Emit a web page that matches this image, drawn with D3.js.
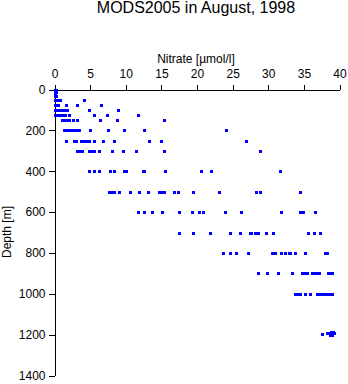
<!DOCTYPE html>
<html>
<head>
<meta charset="utf-8">
<script src="https://cdn.jsdelivr.net/npm/d3@7"></script>
<style>
  html, body { margin: 0; padding: 0; background: #fff; }
  svg { display: block; }
  text { font-family: "Liberation Sans", Arial, Helvetica, sans-serif; fill: #000; }
</style>
</head>
<body>
<svg id="chart" width="348" height="384"></svg>
<script>
const title = "MODS2005 in August, 1998";
const xLabel = "Nitrate [\u00b5mol/l]";
const yLabel = "Depth [m]";
const xTicks = [0, 5, 10, 15, 20, 25, 30, 35, 40];
const yTicks = [0, 200, 400, 600, 800, 1000, 1200, 1400];

// Observations: depth [m] and nitrate [µmol/l], paired by index
const depth = [
  0, 0, 0,
  10, 10, 10,
  20, 20,
  30, 30, 30,
  50, 50, 50, 50, 50,
  75, 75, 75, 75, 75, 75,
  100, 100, 100, 100, 100, 100, 100, 100,
  125, 125, 125, 125, 125, 125, 125, 125, 125,
  150, 150, 150, 150, 150, 150, 150, 150, 150,
  200, 200, 200, 200, 200, 200, 200, 200, 200, 200, 200, 200,
  250, 250, 250, 250, 250, 250, 250, 250, 250, 250, 250, 250, 250,
  300, 300, 300, 300, 300, 300, 300, 300, 300, 300, 300, 300,
  400, 400, 400, 400, 400, 400, 400, 400, 400, 400, 400, 400, 400,
  500, 500, 500, 500, 500, 500, 500, 500, 500, 500, 500, 500, 500, 500, 500, 500, 500,
  600, 600, 600, 600, 600, 600, 600, 600, 600, 600, 600, 600, 600, 600,
  700, 700, 700, 700, 700, 700, 700, 700, 700, 700, 700, 700, 700, 700,
  800, 800, 800, 800, 800, 800, 800, 800, 800, 800, 800, 800, 800, 800,
  900, 900, 900, 900, 900, 900, 900, 900, 900, 900, 900, 900, 900, 900,
  1000, 1000, 1000, 1000, 1000, 1000, 1000, 1000, 1000, 1000, 1000, 1000,
  1195, 1192, 1190, 1185, 1195, 1200, 1188, 1193, 1202
];
const nitrate = [
  0.0, 0.1, 0.2,
  0.0, 0.1, 0.2,
  0.0, 0.1,
  0.0, 0.1, 0.2,
  0.0, 0.2, 0.4, 0.8, 4.1,
  0.0, 0.2, 0.5, 1.6, 3.1, 6.5,
  0.0, 0.3, 0.6, 1.0, 1.4, 1.8, 4.8, 8.9,
  0.0, 0.3, 0.7, 1.1, 1.5, 2.0, 5.5, 7.3, 11.7,
  1.1, 1.4, 1.7, 2.0, 2.6, 3.1, 6.4, 8.8, 15.4,
  1.4, 1.7, 2.1, 2.4, 2.8, 3.1, 3.5, 5.0, 7.5, 9.8, 12.5, 24.0,
  1.6, 2.7, 3.0, 3.7, 4.0, 4.4, 4.8, 5.5, 6.8, 8.4, 13.3, 15.0, 26.9,
  3.2, 3.6, 3.9, 4.8, 5.2, 5.6, 6.2, 8.1, 9.6, 11.5, 15.3, 28.8,
  4.8, 5.5, 6.3, 7.8, 8.3, 9.7, 10.1, 12.4, 12.6, 15.5, 20.5, 21.9, 31.6,
  7.7, 8.0, 8.3, 9.1, 10.6, 11.8, 13.1, 14.6, 15.0, 15.3, 16.8, 17.4, 19.5, 23.1, 28.3, 28.9, 34.4,
  11.7, 12.5, 13.7, 15.1, 17.5, 19.3, 20.3, 20.8, 23.9, 26.2, 31.8, 34.4, 34.9, 36.5,
  17.5, 19.5, 21.8, 24.7, 26.1, 27.4, 27.6, 28.2, 28.6, 29.7, 30.7, 35.6, 36.4, 37.3,
  23.6, 24.6, 25.5, 27.1, 30.5, 31.0, 31.8, 32.3, 32.9, 33.1, 33.7, 35.1, 37.9, 38.3,
  28.6, 29.8, 31.4, 33.3, 34.8, 35.1, 35.4, 36.1, 36.5, 36.8, 37.1, 38.4, 38.7, 38.9,
  33.8, 34.1, 34.4, 35.2, 35.9, 36.8, 37.2, 37.5, 38.0, 38.4, 38.8, 39.0,
  37.6, 38.3, 38.6, 38.8, 38.9, 39.0, 39.1, 39.2, 38.7
];

const points = depth.map((d, i) => ({ depth: d, value: nitrate[i] }));

const svg = d3.select("#chart");
const x = d3.scaleLinear().domain([0, 40]).range([54.5, 339.5]);
const y = d3.scaleLinear().domain([0, 1400]).range([89.5, 375.5]);

// Title
svg.append("text")
  .attr("x", 196).attr("y", 13)
  .attr("text-anchor", "middle")
  .style("font-size", "16px")
  .text(title);

// X axis on top
const xAxis = svg.append("g")
  .attr("transform", `translate(0,${y(0)})`)
  .call(d3.axisTop(x).tickValues(xTicks).tickFormat(d3.format("d")).tickSize(5).tickSizeOuter(0).tickPadding(7));
xAxis.selectAll("text").style("font-size", "12px").attr("fill", "#000");
xAxis.selectAll("line, path").attr("stroke", "#000").attr("shape-rendering", "crispEdges");

svg.append("text")
  .attr("x", 196).attr("y", 63)
  .attr("text-anchor", "middle")
  .style("font-size", "12px")
  .text(xLabel);

// Y axis
const yAxis = svg.append("g")
  .attr("transform", `translate(${x(0)},0)`)
  .call(d3.axisLeft(y).tickValues(yTicks).tickFormat(d3.format("d")).tickSize(6).tickSizeOuter(0).tickPadding(3));
yAxis.selectAll("text").style("font-size", "12px").attr("fill", "#000");
yAxis.selectAll("line, path").attr("stroke", "#000").attr("shape-rendering", "crispEdges");

svg.append("text")
  .attr("transform", `translate(11,232) rotate(-90)`)
  .attr("text-anchor", "middle")
  .style("font-size", "12px")
  .text(yLabel);

// Points
svg.append("g")
  .selectAll("rect")
  .data(points)
  .join("rect")
  .attr("x", d => Math.round(x(d.value)) - 1.5)
  .attr("y", d => Math.round(y(d.depth)) - 1.5)
  .attr("width", 3)
  .attr("height", 3)
  .attr("fill", "#0000ff")
  .attr("shape-rendering", "crispEdges");
</script>
</body>
</html>
